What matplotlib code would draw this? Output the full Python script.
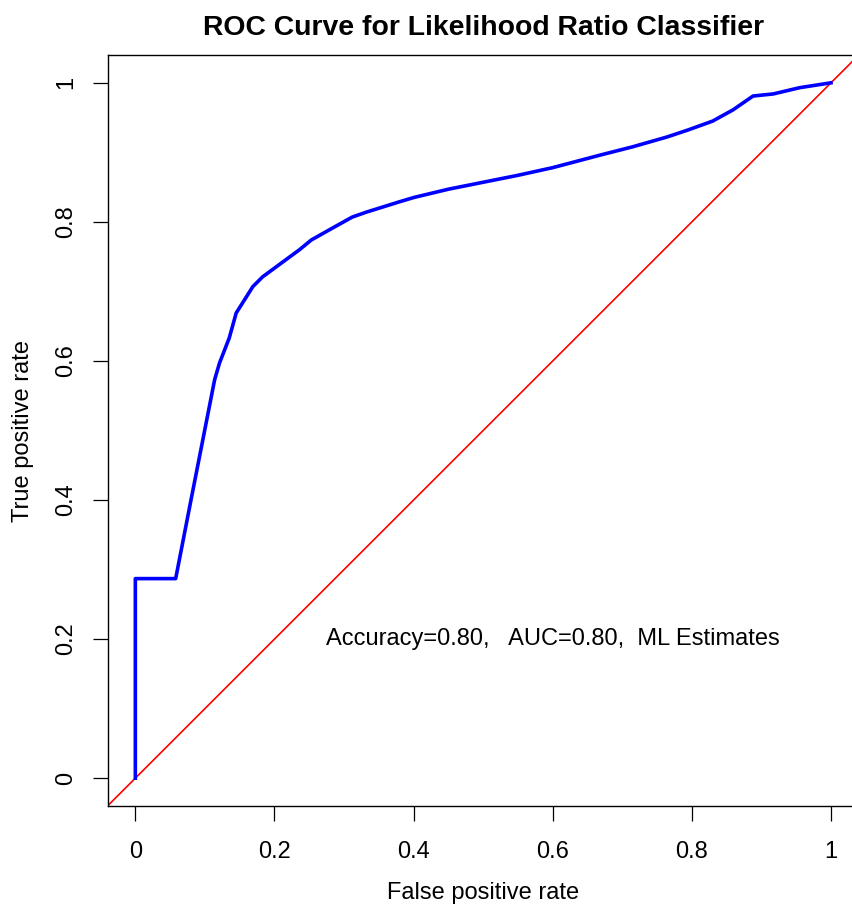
import numpy as np
import matplotlib
matplotlib.use('Agg')
import matplotlib.pyplot as plt

# ROC curve points
fpr = [0.0, 0.0, 0.058, 0.080, 0.114, 0.121, 0.135, 0.145, 0.169, 0.183, 0.236,
       0.253, 0.285, 0.312, 0.332, 0.380, 0.40, 0.45, 0.5, 0.55, 0.6, 0.668, 0.715,
       0.764, 0.794, 0.830, 0.859, 0.888, 0.917, 0.955, 1.0]
tpr = [0.0, 0.287, 0.287, 0.40, 0.573, 0.597, 0.633, 0.669, 0.707, 0.721, 0.760,
       0.774, 0.792, 0.807, 0.814, 0.829, 0.835, 0.847, 0.857, 0.867, 0.878, 0.896,
       0.908, 0.922, 0.932, 0.945, 0.961, 0.981, 0.984, 0.993, 1.0]

title = 'ROC Curve for Likelihood Ratio Classifier'
note = 'Accuracy=0.80,   AUC=0.80,  ML Estimates'
ticks = [0, 0.2, 0.4, 0.6, 0.8, 1.0]
tick_labels = ['0', '0.2', '0.4', '0.6', '0.8', '1']

plt.rcParams['font.family'] = ['Liberation Sans', 'DejaVu Sans']

W, H = 853, 909
fig = plt.figure(figsize=(W / 100, H / 100), dpi=100)
# plot region runs past the right edge of the image, like the reference
left, right, top, bottom = 107.5, 858.8, 55.0, 806.0
ax = fig.add_axes([left / W, 1 - bottom / H, (right - left) / W, (bottom - top) / H])

ax.plot([-0.04, 1.04], [-0.04, 1.04], color='red', linewidth=1.2)
ax.plot(fpr, tpr, color='blue', linewidth=2.6, solid_joinstyle='round')

ax.set_xlim(-0.04, 1.04)
ax.set_ylim(-0.04, 1.04)
ax.set_xticks(ticks)
ax.set_xticklabels(tick_labels)
ax.set_yticks(ticks)
ax.set_yticklabels(tick_labels, rotation=90, va='center')
ax.tick_params(direction='out', length=10.8, width=0.9, labelsize=17, color='black')
ax.tick_params(axis='x', pad=14.5)
ax.tick_params(axis='y', pad=10.8)
for s in ax.spines.values():
    s.set_linewidth(1.0)
    s.set_color('black')

ax.text(0.6, 0.2, note, ha='center', va='center', fontsize=17)

mid_x = (left + right) / 2
mid_y = (top + bottom) / 2
fig.text(mid_x / W, 1 - 899 / H, 'False positive rate', ha='center', va='baseline',
         fontsize=17)
fig.text(23 / W, 1 - mid_y / H, 'True positive rate', ha='center', va='center',
         rotation=90, fontsize=17)
fig.text(mid_x / W, 1 - 28 / H, title, ha='center', va='center',
         fontsize=20.4, fontweight='bold')

fig.savefig('out.png', dpi=100)
